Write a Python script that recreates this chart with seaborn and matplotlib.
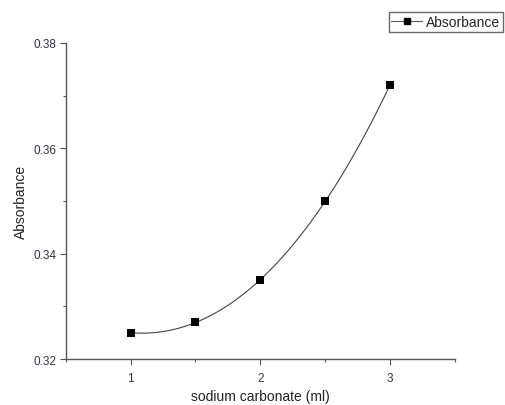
import matplotlib
matplotlib.use("Agg")
import matplotlib.pyplot as plt
import seaborn as sns
import numpy as np
import pandas as pd
from matplotlib.lines import Line2D
from matplotlib.ticker import MultipleLocator

volume = [1.0, 1.5, 2.0, 2.5, 3.0]
absorbance = [0.325, 0.327, 0.335, 0.350, 0.372]
x_ticks = [1, 2, 3]
y_ticks = [0.32, 0.34, 0.36, 0.38]

sns.set_theme(style="ticks")
plt.rcParams['font.family'] = ['Liberation Sans', 'DejaVu Sans']

df = pd.DataFrame({"volume": volume, "absorbance": absorbance})

fig = plt.figure(figsize=(5.06, 4.06), dpi=100)
ax = fig.add_axes([0.130, 0.113, 0.769, 0.779])

sns.regplot(data=df, x="volume", y="absorbance", order=3, ci=None, scatter=False,
            truncate=True, ax=ax, line_kws=dict(color="#444444", lw=0.8))
sns.scatterplot(data=df, x="volume", y="absorbance", marker="s", color="black",
                s=28, edgecolor="black", linewidth=0, ax=ax, zorder=3)

ax.set_xlim(0.5, 3.5)
ax.set_ylim(0.32, 0.38)
ax.set_xticks(x_ticks)
ax.set_xticklabels([str(t) for t in x_ticks])
ax.set_yticks(y_ticks)
ax.set_yticklabels([f"{t:.2f}" for t in y_ticks])
ax.xaxis.set_minor_locator(MultipleLocator(0.5))
ax.yaxis.set_minor_locator(MultipleLocator(0.01))

for s in ["top", "right"]:
    ax.spines[s].set_visible(False)
for s in ["left", "bottom"]:
    ax.spines[s].set_color("#555555")
    ax.spines[s].set_linewidth(1.0)

ax.tick_params(axis="both", which="major", direction="out", length=4, width=0.8,
               colors="#555555", labelsize=8.5, labelcolor="#333344")
ax.tick_params(axis="x", which="major", pad=5)
ax.tick_params(axis="y", which="major", pad=3)
ax.tick_params(axis="both", which="minor", direction="out", length=2, width=0.8,
               colors="#555555")

ax.set_xlabel("sodium carbonate (ml)", fontsize=10, color="#222222")
ax.set_ylabel("Absorbance", fontsize=10, color="#222222")
ax.xaxis.set_label_coords(0.5, -0.095)
ax.yaxis.set_label_coords(-0.098, 0.5)

handle = Line2D([0], [0], color="#555555", lw=0.8, marker="s", markersize=5,
                markerfacecolor="black", markeredgecolor="black")
leg = fig.legend([handle], ["Absorbance"], loc="upper right",
                 bbox_to_anchor=(0.994, 0.968), fontsize=10, frameon=True,
                 fancybox=False, handlelength=2.2, handletextpad=0.3,
                 borderpad=0.2, borderaxespad=0)
leg.get_frame().set_edgecolor("#444444")
leg.get_frame().set_linewidth(1.0)

fig.savefig("out.png", dpi=100)
